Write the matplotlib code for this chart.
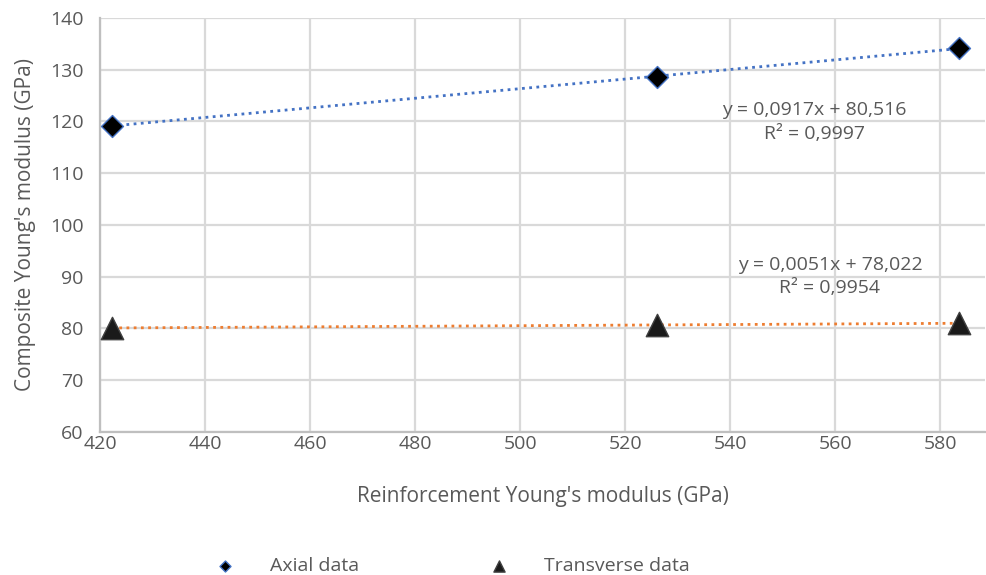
import matplotlib.pyplot as plt
import numpy as np

plt.rcParams['font.family'] = ['Open Sans', 'DejaVu Sans']

reinforcement = [422.3, 526.1, 583.6]
axial = [119.2, 128.6, 134.2]
transverse = [80.1, 80.7, 81.0]

axial_eq = 'y = 0,0917x + 80,516\nR² = 0,9997'
transverse_eq = 'y = 0,0051x + 78,022\nR² = 0,9954'

grey = '#595959'
blue = '#4472C4'
orange = '#ED7D31'

fig = plt.figure(figsize=(9.86, 5.75), dpi=100)
ax = fig.add_axes([0.1014, 0.2487, 0.898, 0.72])

x = np.array(reinforcement)
xs = np.array([x.min(), x.max()])

# linear trendlines
pa = np.polyfit(x, axial, 1)
pt = np.polyfit(x, transverse, 1)
ax.plot(xs, np.polyval(pa, xs), color=blue, lw=2, ls=(0, (1, 1.6)), zorder=2)
ax.plot(xs, np.polyval(pt, xs), color=orange, lw=2, ls=(0, (1, 1.6)), zorder=2)

ax.scatter(x, axial, marker='D', s=125, color='black', edgecolors=blue,
           linewidths=1, zorder=3, label='Axial data')
ax.scatter(x, transverse, marker='^', s=260, color='#1a1a1a', edgecolors='#404040',
           linewidths=1, zorder=3, label='Transverse data')

ax.text(556, 119.9, axial_eq, ha='center', va='center', multialignment='center',
        fontsize=14, color=grey, linespacing=1.4)
ax.text(559, 90.0, transverse_eq, ha='center', va='center', multialignment='center',
        fontsize=14, color=grey, linespacing=1.35)

ax.set_xlim(420, 588.6)
ax.set_ylim(60, 140)
ax.set_xticks(np.arange(420, 581, 20))
ax.set_yticks(np.arange(60, 141, 10))
ax.grid(True, color='#D9D9D9', lw=1.6)
ax.set_axisbelow(True)
for s in ['top', 'right']:
    ax.spines[s].set_visible(False)
for s in ['left', 'bottom']:
    ax.spines[s].set_color('#BFBFBF')
    ax.spines[s].set_linewidth(1.6)
ax.tick_params(length=0, labelsize=14, colors=grey)
ax.tick_params(axis='x', pad=2)
ax.tick_params(axis='y', pad=12)

ax.set_xlabel("Reinforcement Young's modulus (GPa)", fontsize=15, color=grey, labelpad=24)
ax.set_ylabel("Composite Young's modulus (GPa)", fontsize=15, color=grey, labelpad=10)

leg = fig.legend(loc='lower center', bbox_to_anchor=(0.454, -0.03), ncol=2, frameon=False,
                 fontsize=14, columnspacing=6.2, handletextpad=1.3, markerscale=0.5)
for t in leg.get_texts():
    t.set_color(grey)

fig.savefig('out.png', dpi=100)
